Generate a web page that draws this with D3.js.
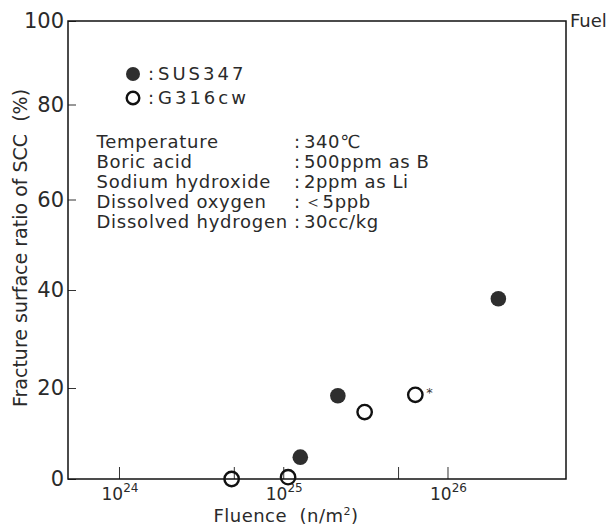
<!DOCTYPE html>
<html>
<head>
<meta charset="utf-8">
<script src="https://cdn.jsdelivr.net/npm/d3@7"></script>
<style>
  body { margin: 0; background: #fff; }
  svg { display: block; font-family: "DejaVu Sans", sans-serif; }
</style>
</head>
<body>
<div id="chart"></div>
<script>
// fluence (n/m^2) and fracture surface ratio of SCC (%)
const susFluence = [1.27e25, 2.15e25, 2.04e26];
const susRatio = [4.8, 18.3, 38.2];
const g316Fluence = [4.85e24, 1.07e25, 3.13e25, 6.37e25];
const g316Ratio = [0, 0.4, 14.7, 18.5];
const g316Note = ['', '', '', '*'];

const xTicks = [1e24, 5e24, 1e25, 5e25, 1e26];
const xLabelExp = [24, 25, 26];
const yTicks = [0, 20, 40, 60, 80, 100];

const legendNames = ['SUS347', 'G316cw'];
const condNames = ['Temperature', 'Boric acid', 'Sodium hydroxide', 'Dissolved oxygen', 'Dissolved hydrogen'];
const condValues = ['340\u2103', '500ppm as B', '2ppm as Li', '\uff1c5ppb', '30cc/kg'];

const W = 606, H = 525;
const plotL = 68, plotR = 566, plotT = 21, plotB = 479;
const ink = '#2a2a2a';

const svg = d3.select('#chart').append('svg')
    .attr('width', W)
    .attr('height', H);

const x = d3.scaleLog()
    .domain([Math.pow(10, 23.6895), Math.pow(10, 26.7215)])
    .range([plotL, plotR]);

// the scanned axis is a little uneven, so follow its tick positions
const y = d3.scaleLinear()
    .domain(yTicks)
    .range([479, 388, 290, 199.5, 104.5, 21]);

// x axis ticks (inward)
const xAxis = svg.append('g')
    .attr('transform', 'translate(0,' + plotB + ')')
    .call(d3.axisBottom(x).tickValues(xTicks).tickSize(-12).tickSizeOuter(0).tickFormat(() => ''));
xAxis.select('.domain').remove();
xAxis.selectAll('.tick line').attr('stroke', '#333').attr('stroke-width', 1);

xLabelExp.forEach(function (e) {
    const t = svg.append('text')
        .attr('x', x(Math.pow(10, e)) + 1)
        .attr('y', 500)
        .attr('text-anchor', 'middle')
        .attr('font-size', 17)
        .attr('fill', ink);
    t.append('tspan').text('10');
    t.append('tspan').attr('dy', -8).attr('font-size', 12).text(e);
});

// y axis ticks (inward)
const yAxis = svg.append('g')
    .attr('transform', 'translate(' + plotL + ',0)')
    .call(d3.axisLeft(y).tickValues(yTicks).tickSize(-8).tickSizeOuter(0).tickPadding(4));
yAxis.select('.domain').remove();
yAxis.selectAll('.tick line').attr('stroke', '#333').attr('stroke-width', 1);
yAxis.selectAll('.tick text')
    .attr('font-size', 21)
    .attr('font-family', '"DejaVu Sans", sans-serif')
    .attr('fill', ink);

// frame
svg.append('rect')
    .attr('x', plotL)
    .attr('y', plotT)
    .attr('width', plotR - plotL)
    .attr('height', plotB - plotT)
    .attr('fill', 'none')
    .attr('stroke', '#111')
    .attr('stroke-width', 1.5);

// axis titles
const xt = svg.append('text')
    .attr('x', 286)
    .attr('y', 522)
    .attr('text-anchor', 'middle')
    .attr('font-size', 18)
    .attr('letter-spacing', 0.5)
    .attr('fill', ink);
xt.append('tspan').text('Fluence\u00a0\u00a0(n/m');
xt.append('tspan').attr('dy', -7).attr('font-size', 11).text('2');
xt.append('tspan').attr('dy', 7).text(')');

svg.append('text')
    .attr('transform', 'translate(27,248) rotate(-90)')
    .attr('text-anchor', 'middle')
    .attr('font-size', 19)
    .attr('fill', ink)
    .text('Fracture surface ratio of SCC\u00a0\u00a0(%)');

svg.append('text')
    .attr('x', 570)
    .attr('y', 27)
    .attr('font-size', 18)
    .attr('fill', ink)
    .text('Fuel');

// data points
svg.append('g').selectAll('circle')
    .data(susFluence)
    .join('circle')
    .attr('cx', (d) => x(d))
    .attr('cy', (d, i) => y(susRatio[i]))
    .attr('r', 7.8)
    .attr('fill', '#2e2e2e');

svg.append('g').selectAll('circle')
    .data(g316Fluence)
    .join('circle')
    .attr('cx', (d) => x(d))
    .attr('cy', (d, i) => y(g316Ratio[i]))
    .attr('r', 7.2)
    .attr('fill', 'none')
    .attr('stroke', '#111')
    .attr('stroke-width', 2.4);

svg.append('g').selectAll('text')
    .data(g316Fluence)
    .join('text')
    .attr('x', (d) => x(d) + 11)
    .attr('y', (d, i) => y(g316Ratio[i]) + 2)
    .attr('font-size', 13)
    .attr('fill', '#333')
    .text((d, i) => g316Note[i]);

// legend
const leg = svg.append('g');
legendNames.forEach(function (name, i) {
    const cy = 74 + i * 24;
    if (i === 0) {
        leg.append('circle').attr('cx', 133).attr('cy', cy).attr('r', 7).attr('fill', '#2e2e2e');
    } else {
        leg.append('circle').attr('cx', 133).attr('cy', cy).attr('r', 6.3)
            .attr('fill', 'none').attr('stroke', '#111').attr('stroke-width', 2.4);
    }
    leg.append('text').attr('x', 148).attr('y', cy + 6).attr('font-size', 18).attr('fill', ink).text(':');
    leg.append('text').attr('x', 158).attr('y', cy + 6).attr('font-size', 18)
        .attr('letter-spacing', 3).attr('fill', ink).text(name);
});

// test conditions
const cond = svg.append('g').attr('font-size', 18).attr('fill', ink);
condNames.forEach(function (name, i) {
    const by = 148 + i * 20;
    cond.append('text').attr('x', 96.5).attr('y', by).attr('letter-spacing', 0.75).text(name);
    cond.append('text').attr('x', 294).attr('y', by).text(':');
    cond.append('text').attr('x', 304).attr('y', by).attr('letter-spacing', 0.6).text(condValues[i]);
});
</script>
</body>
</html>
